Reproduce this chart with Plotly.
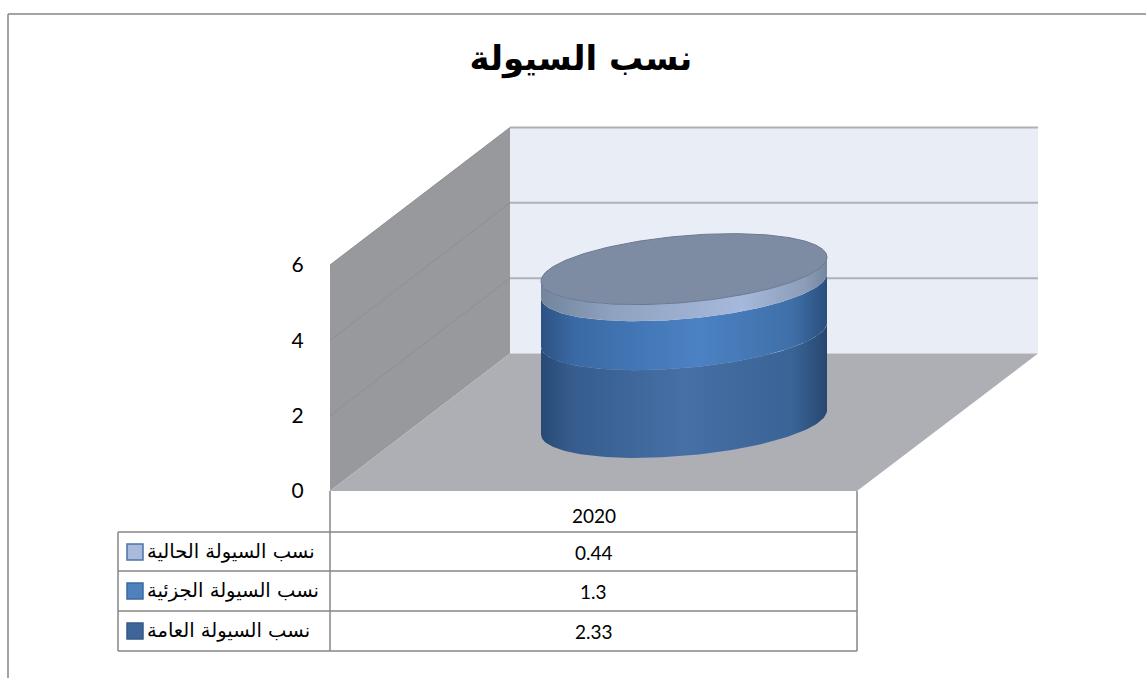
import numpy as np
import plotly.graph_objects as go

# Chart data
title_text = "نسب السيولة"
category = "2020"
series_names = ["نسب السيولة العامة", "نسب السيولة الجزئية", "نسب السيولة الحالية"]
series_values = [2.33, 1.3, 0.44]
axis_ticks = [0, 2, 4, 6]

# Styling
key_colors = ["#3F6699", "#4F81BD", "#A9BADB"]
key_borders = ["#34598A", "#3D6A9E", "#4A76A8"]
side_gradients = [
    [[0, "#264A75"], [0.1, "#365C8D"], [0.5, "#4670A6"], [0.88, "#3A6496"], [1, "#27476F"]],
    [[0, "#2C5282"], [0.12, "#3A6AA5"], [0.55, "#4B82C4"], [0.88, "#3F6FA8"], [1, "#2A4F7D"]],
    [[0, "#72859C"], [0.25, "#8FA2BF"], [0.7, "#A6B9DC"], [0.92, "#8B9DB8"], [1, "#76869F"]],
]
FRAME = "#868686"
W, H = 1146, 678

# Projection of the 3-D box onto the page, in page units
PX_PER_UNIT = 37.67
ZERO_PX = 491
FRONT_L, FRONT_R = 330, 857
DEPTH_X = 180
DEPTH_UP = 3.65          # floor depth expressed in value units
CYL_CX, CYL_RX = 684, 143
CYL_BASE = 1.82          # centre of the cylinder base above the front floor edge
CYL_SKEW = 12 / PX_PER_UNIT
CYL_RY = 33.4 / PX_PER_UNIT

fig = go.Figure()


def poly(xs, ys, color=None, gradient=None, line=None):
    kw = {"fillgradient": gradient} if gradient else {"fillcolor": color}
    fig.add_trace(go.Scatter(
        x=list(xs), y=list(ys), mode="lines", fill="toself",
        line=line or dict(width=0), hoverinfo="skip", showlegend=False, **kw))


top = max(axis_ticks)
back_l, back_r = FRONT_L + DEPTH_X, FRONT_R + DEPTH_X + 1

# Back wall, side wall, floor
poly([back_l, back_r, back_r, back_l], [DEPTH_UP, DEPTH_UP, DEPTH_UP + top, DEPTH_UP + top], "#E9EDF6")
poly([FRONT_L, back_l, back_l, FRONT_L], [0, DEPTH_UP, DEPTH_UP + top, top], "#98999C")
poly([FRONT_L, back_l, back_r, FRONT_R], [0, DEPTH_UP, DEPTH_UP, 0], "#ADAFB5")

# Gridlines on the two walls
for t in axis_ticks[1:]:
    fig.add_trace(go.Scatter(x=[FRONT_L, back_l], y=[t, DEPTH_UP + t], mode="lines",
                             line=dict(color="#8C8F91", width=1), hoverinfo="skip", showlegend=False))
    fig.add_trace(go.Scatter(x=[back_l, back_r], y=[DEPTH_UP + t, DEPTH_UP + t], mode="lines",
                             line=dict(color="#AEB2B8", width=2), hoverinfo="skip", showlegend=False))

# Stacked cylinder: one side band per series, then the lid
theta_front = np.linspace(np.pi, 0, 121)
band_x = CYL_CX + CYL_RX * np.cos(theta_front)
band_dy = CYL_SKEW * np.cos(theta_front) - CYL_RY * np.sin(theta_front)

level = 0.0
for value, grad in zip(series_values, side_gradients):
    low = CYL_BASE + level + band_dy
    high = CYL_BASE + level + value + band_dy
    poly(np.r_[band_x, band_x[::-1]], np.r_[low, high[::-1]],
         gradient=dict(type="horizontal", colorscale=grad))
    level += value

theta_all = np.linspace(0, 2 * np.pi, 241)
poly(CYL_CX + CYL_RX * np.cos(theta_all),
     CYL_BASE + level + CYL_SKEW * np.cos(theta_all) + CYL_RY * np.sin(theta_all),
     "#7E8CA3", line=dict(color="#6A7993", width=1))

# Data table beneath the chart, laid out on a page-unit axis
row_lines = [532, 571, 611, 651]
row_mid = [631, 591, 552]      # one per series, bottom band first
LABEL_L, KEY_L, KEY_R = 118, 127, 143
shapes = []


def seg(x0, y0, x1, y1, color=FRAME, width=1.5):
    shapes.append(dict(type="line", xref="x", yref="y2", x0=x0, y0=y0, x1=x1, y1=y1,
                       line=dict(color=color, width=width)))


seg(8, 14, W, 14)
seg(8, 14, 8, H)
for ry in row_lines:
    seg(LABEL_L, ry, FRONT_R, ry)
seg(LABEL_L, row_lines[0], LABEL_L, row_lines[-1])
seg(FRONT_L, ZERO_PX, FRONT_L, row_lines[-1])
seg(FRONT_R, ZERO_PX, FRONT_R, row_lines[-1])

annotations = []


def note(text, x, y, size, family, anchor="center"):
    annotations.append(dict(text=text, x=x, y=y, xref="x", yref="y2", xanchor=anchor,
                            yanchor="middle", showarrow=False,
                            font=dict(family=family, size=size, color="#000000")))


note(category, (FRONT_L + FRONT_R) / 2, 515, 19, "Lato")
for name, value, ym, kc, kb in zip(series_names, series_values, row_mid, key_colors, key_borders):
    note(str(value), (FRONT_L + FRONT_R) / 2, ym, 19, "Lato")
    note(name, 145, ym - 1, 19.5, "DejaVu Sans", "left")
    shapes.append(dict(type="rect", xref="x", yref="y2", x0=KEY_L, x1=KEY_R, y0=ym - 8, y1=ym + 8,
                       fillcolor=kc, line=dict(color=kb, width=1.5)))

y_top = ZERO_PX / PX_PER_UNIT
y_bottom = -(H - ZERO_PX) / PX_PER_UNIT

fig.update_layout(
    width=W, height=H, autosize=False,
    margin=dict(l=0, r=0, t=0, b=0),
    paper_bgcolor="#FFFFFF", plot_bgcolor="#FFFFFF",
    title=dict(text=f"<b>{title_text}</b>", x=581 / W, y=1 - 58 / H, xanchor="center", yanchor="middle",
               font=dict(family="DejaVu Sans", size=34, color="#000000")),
    xaxis=dict(range=[0, W], visible=False, domain=[0, 1]),
    yaxis=dict(range=[y_bottom, y_top], domain=[0, 1], anchor="free", position=FRONT_L / W,
               tickmode="array", tickvals=axis_ticks, showgrid=False, zeroline=False, showline=False,
               ticks="outside", ticklen=22, tickcolor="rgba(0,0,0,0)",
               tickfont=dict(family="Lato", size=21, color="#000000")),
    yaxis2=dict(range=[H, 0], overlaying="y", visible=False),
    shapes=shapes, annotations=annotations, showlegend=False,
)

fig.write_html("out.html", config=dict(displayModeBar=False))
